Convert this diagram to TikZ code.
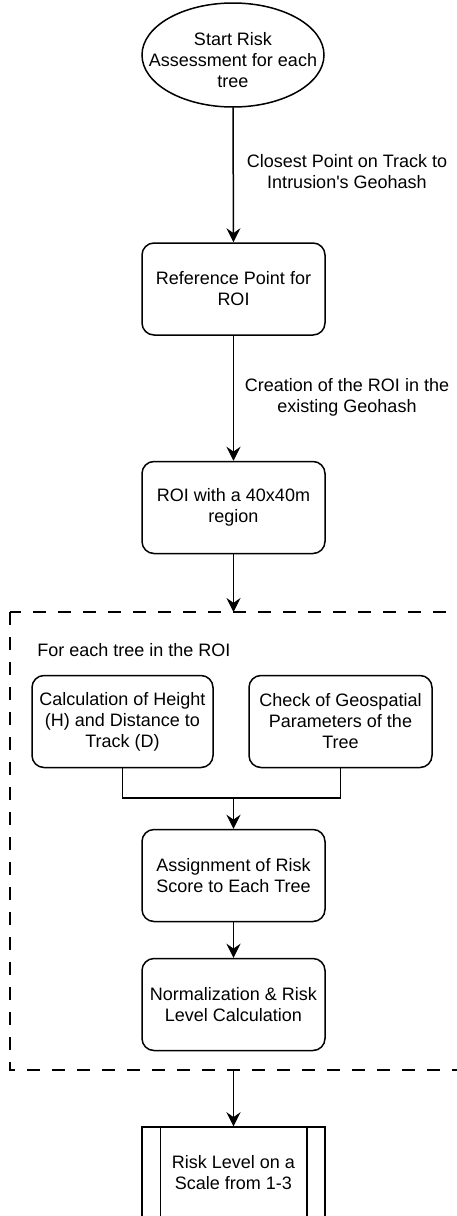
\documentclass[tikz,border=0pt]{standalone}
\usepackage{fontspec}
\setmainfont{Liberation Sans}
\usepackage{tikz}
\usetikzlibrary{
	arrows.meta, % for the arrow tips
	calc
	}

\begin{document}
\begin{tikzpicture}[
                x=0.5pt, y=0.5pt,
                every node/.style={font=\fontsize{9}{10.5}\selectfont, align=center},
                proc/.style={rectangle,draw,rounded corners=6pt,line width=0.75pt,minimum width=91.5pt,minimum height=46pt,inner sep=0pt},
                term/.style={rectangle,minimum width=91pt,minimum height=52pt,inner sep=0pt},
                result/.style={rectangle,draw,line width=0.75pt,minimum width=91.5pt,minimum height=46pt,inner sep=0pt},
                flow/.style={line width=0.75pt,-{Stealth[length=7pt,width=7pt,inset=2.4pt]}},
                link/.style={line width=0.75pt},
                group/.style={draw,line width=0.75pt,dash pattern=on 6.5pt off 6pt},
                lbl/.style={inner sep=0pt},
            ]
                % picture size (pixels of the reference)
                \useasboundingbox (0,0) rectangle (456,-1216);

                \def\midx{233.5}
                \def\sub{9.5pt}
                \def\lift{2.5pt} % text sits a bit low in the ellipse

                %% Main column
                \node[term] (start) at (233,-60) {Start Risk\\Assessment for each\\tree};
                \draw[line width=0.75pt] ([yshift=\lift]start.center) ellipse [x radius=45.5pt, y radius=26pt];

                \node[proc] (refpt) at (\midx,-289) {Reference Point for\\ROI};
                \node[proc] (roi) at (\midx,-507.5) {ROI with a 40x40m\\region};

                % Edges with their labels
                \draw[flow] ([yshift=\lift]start.south) -- (refpt.north);
                \node[lbl] (closest) at (347,-171.5) {Closest Point on Track to\\Intrusion\textquotesingle s Geohash};
                \draw[flow] (refpt.south) -- (roi.north);
                \node[lbl] (creation) at (347,-397.5) {Creation of the ROI in the\\existing Geohash};

                %% Loop over the trees (dashed group)
                \coordinate (grouptop) at (\midx,-612);
                \coordinate (groupbot) at (\midx,-1070);
                \draw[group] (10,-612) rectangle (470,-1070);
                \node[lbl,anchor=west] (foreach) at (37,-650) {For each tree in the ROI};

                \draw[flow] (roi.south) -- (grouptop);

                \node[proc,minimum width=90.5pt] (height) at (122.5,-721.5) {Calculation of Height\\(H) and Distance to\\Track (D)};
                \node[proc] (geo) at (340.5,-721.5) {Check of Geospatial\\Parameters of the\\Tree};

                \node[proc] (assign) at (\midx,-875.5) {Assignment of Risk\\Score to Each Tree};
                \node[proc] (norm) at (\midx,-1004.5) {Normalization \& Risk\\Level Calculation};

                % Both checks join before the score
                \coordinate (join) at (\midx,-798);
                \draw[link] (height.south) |- (join);
                \draw[link] (geo.south) |- (join);
                \draw[flow] (join) -- (assign.north);
                \draw[flow] (assign.south) -- (norm.north);

                %% Result (predefined process)
                \node[result] (level) at (\midx,-1173) {Risk Level on a\\Scale from 1-3};
                \draw[link] ([xshift=\sub]level.north west) -- ([xshift=\sub]level.south west);
                \draw[link] ([xshift=-\sub]level.north east) -- ([xshift=-\sub]level.south east);
                \draw[flow] (groupbot) -- (level.north);

            \end{tikzpicture}
\end{document}
